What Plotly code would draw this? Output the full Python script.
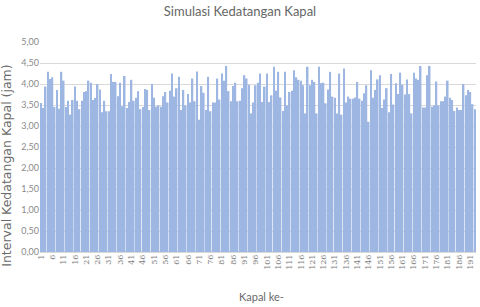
import plotly.graph_objects as go

# Interval kedatangan kapal (jam)
values = [
    3.55, 3.43, 3.94, 4.29, 4.12, 4.16, 3.45, 3.86, 3.41, 4.29,
    4.08, 3.45, 3.60, 3.27, 3.62, 3.94, 3.60, 3.40, 3.60, 3.81,
    3.83, 4.08, 4.03, 3.62, 3.67, 4.00, 3.87, 3.33, 3.60, 3.35,
    3.35, 4.24, 4.05, 4.05, 3.71, 4.03, 3.47, 4.19, 3.43, 3.57,
    4.10, 3.60, 3.67, 3.83, 3.40, 3.45, 3.88, 3.86,
    3.38, 4.00, 3.67, 3.46, 3.49, 3.46, 3.71, 3.81, 3.56, 3.84,
    4.25, 3.70, 3.90, 4.17, 3.38, 3.86, 3.49, 3.76, 3.56, 4.13,
    3.59, 4.30, 3.15, 3.95, 3.79, 3.38, 4.17, 3.35, 3.56, 3.56,
    4.13, 3.63, 4.25, 4.08, 4.43, 3.83, 3.59, 3.95, 4.03, 3.59,
    3.60, 3.90, 4.21, 4.13, 3.98, 3.30, 3.56, 3.97, 4.03, 4.25,
    3.57, 3.94, 4.25, 3.57, 3.73, 4.41, 3.84, 4.29, 3.68, 3.36,
    4.29, 3.49, 3.81, 3.84, 4.33, 4.16, 4.10, 4.08, 3.97, 3.30,
    4.41, 3.97, 4.10,
    4.05, 3.30, 4.41, 4.02, 4.03, 3.54, 3.87, 4.29, 3.70, 3.67,
    3.30, 4.25, 3.27, 4.37, 3.56, 3.70, 3.65, 3.65, 3.68, 4.05,
    3.65, 3.60, 3.78, 3.97, 3.10, 4.33, 3.67, 3.86, 4.11, 4.21,
    3.43, 3.63, 3.90, 3.33, 4.24, 3.51, 4.02, 3.76, 4.27, 3.98,
    3.75, 4.11, 3.76, 3.30, 4.27, 4.13, 4.10, 4.43, 3.44, 3.44,
    4.21, 4.43, 3.46, 3.49, 4.06, 3.49, 3.59, 3.59, 3.70, 4.08,
    3.67, 3.62, 3.36, 3.44, 3.38, 3.38, 4.00, 3.73, 3.86, 3.81,
    3.52, 3.40,
]
kapal = list(range(1, len(values) + 1))

x_tickvals = [1, 6, 11, 16, 21, 26, 31, 36, 41, 46, 51, 56, 61, 66, 71, 76,
              81, 86, 91, 96, 101, 106, 111, 116, 121, 126, 131, 136, 141,
              146, 151, 156, 161, 166, 171, 176, 181, 186, 191]
y_tickvals = [0, 0.5, 1.0, 1.5, 2.0, 2.5, 3.0, 3.5, 4.0, 4.5, 5.0]
y_ticktext = ["0,00", "0,50", "1,00", "1,50", "2,00", "2,50", "3,00",
              "3,50", "4,00", "4,50", "5,00"]

fig = go.Figure(go.Bar(
    x=kapal, y=values,
    marker=dict(color="#9db6e2", line=dict(width=0)),
))

fig.update_layout(
    width=480, height=307,
    margin=dict(l=40, r=4, t=42, b=55),
    paper_bgcolor="white", plot_bgcolor="white",
    bargap=0.3,
    showlegend=False,
    title=dict(text="Simulasi Kedatangan Kapal", x=0.5, xanchor="center",
               y=0.962, yanchor="middle",
               font=dict(family="Lato", size=13, color="#666666")),
    font=dict(family="Lato", color="#7a7a7a"),
    annotations=[
        dict(text="Kapal ke-", xref="paper", yref="paper",
             x=0.509, y=-0.214, xanchor="center", yanchor="middle",
             showarrow=False,
             font=dict(family="Lato", size=11, color="#6a6a6a")),
        dict(text="Interval Kedatangan Kapal (jam)", xref="paper", yref="paper",
             x=-0.076, y=0.41, xanchor="center", yanchor="middle",
             textangle=-90, showarrow=False,
             font=dict(family="DejaVu Sans", size=12.5, color="#6a6a6a")),
    ],
)
fig.update_xaxes(
    range=[0.5, len(values) + 0.5], automargin=False,
    tickmode="array", tickvals=x_tickvals, ticktext=[str(v) for v in x_tickvals],
    tickangle=-90, tickfont=dict(family="DejaVu Serif", size=8, color="#7a7a7a"),
    showgrid=False, zeroline=False, showline=False, ticks="",
)
fig.update_yaxes(
    range=[0, 5], automargin=False,
    tickmode="array", tickvals=y_tickvals, ticktext=y_ticktext,
    tickfont=dict(family="Lato", size=9, color="#8a8a8a"),
    showgrid=True, gridcolor="#d9d9d9", gridwidth=1,
    zeroline=True, zerolinecolor="#d9d9d9", showline=False, ticks="",
)

fig.write_html("out.html", config={"displayModeBar": False},
               post_script="document.body.style.margin='0';")
